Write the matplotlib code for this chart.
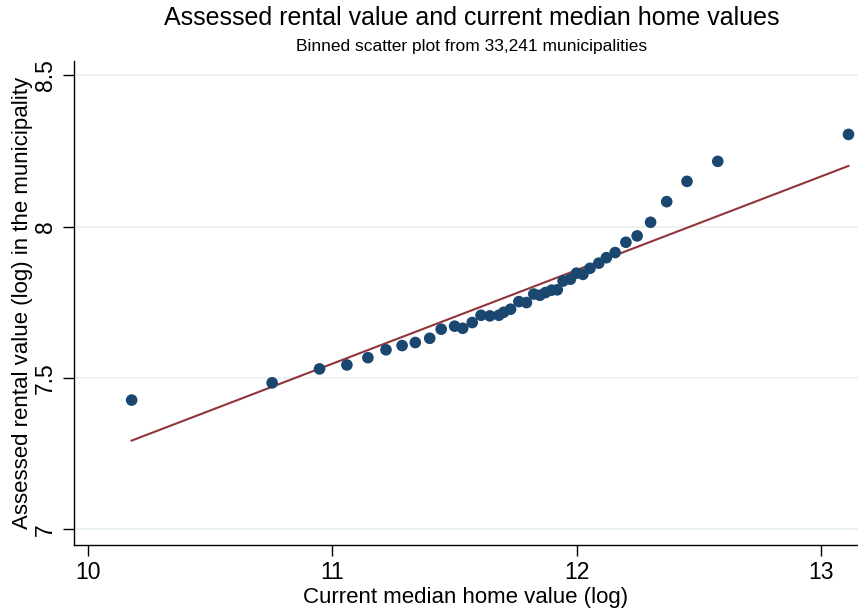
import matplotlib
matplotlib.use("Agg")
import matplotlib.pyplot as plt
import numpy as np

plt.rcParams["font.family"] = ["Liberation Sans", "DejaVu Sans"]

# Binned means: log median home value vs. log assessed rental value
home_value_log = [
    10.179, 10.754, 10.948, 11.060, 11.146, 11.220, 11.286, 11.340, 11.399, 11.446,
    11.501, 11.534, 11.573, 11.609, 11.645, 11.682, 11.702, 11.730, 11.764, 11.795,
    11.825, 11.850, 11.873, 11.898, 11.921, 11.945, 11.975, 12.000, 12.026, 12.055,
    12.091, 12.122, 12.158, 12.202, 12.248, 12.303, 12.369, 12.452, 12.578, 13.113,
]
rental_value_log = [
    7.427, 7.484, 7.530, 7.543, 7.567, 7.593, 7.607, 7.617, 7.631, 7.661,
    7.671, 7.664, 7.683, 7.707, 7.705, 7.707, 7.717, 7.727, 7.752, 7.749,
    7.777, 7.773, 7.782, 7.790, 7.791, 7.820, 7.826, 7.846, 7.842, 7.862,
    7.879, 7.897, 7.914, 7.948, 7.969, 8.014, 8.082, 8.149, 8.215, 8.304,
]

# Linear fit line (intercept, slope)
fit_intercept = 4.148
fit_slope = 0.309

x_ticks = [10, 11, 12, 13]
y_ticks = [7, 7.5, 8, 8.5]
y_tick_labels = ["7", "7.5", "8", "8.5"]

navy = "#1a476f"
maroon = "#90353b"

fig = plt.figure(figsize=(8.58, 6.11), dpi=100)
ax = fig.add_axes([74 / 858, 1 - 544.6 / 611, 1 - 74 / 858, (544.6 - 61.4) / 611])

ax.set_xlim(9.943, 13.152)
ax.set_ylim(6.95, 8.545)

for yt in y_ticks:
    ax.axhline(yt, color="#eaf2f3", linewidth=1.3, zorder=0)

ax.scatter(home_value_log, rental_value_log, s=70, color=navy, edgecolors="none", zorder=3)

xs = np.array([min(home_value_log), max(home_value_log)])
ax.plot(xs, fit_intercept + fit_slope * xs, color=maroon, linewidth=1.5, zorder=2)

ax.set_xticks(x_ticks)
ax.set_xticklabels([str(t) for t in x_ticks])
ax.set_yticks(y_ticks)
ax.set_yticklabels(y_tick_labels, rotation=90, va="center")

ax.tick_params(axis="both", direction="out", length=8, width=1, color="black",
               labelsize=16.5, pad=4)
ax.spines["top"].set_visible(False)
ax.spines["right"].set_visible(False)
ax.spines["left"].set_linewidth(1)
ax.spines["bottom"].set_linewidth(1)

ax.set_xlabel("Current median home value (log)", fontsize=16, labelpad=2)
ax.set_ylabel("Assessed rental value (log) in the municipality", fontsize=16, labelpad=1)

fig.text(472 / 858, 1 - 18 / 611, "Assessed rental value and current median home values",
         ha="center", va="center", fontsize=18)
fig.text(472 / 858, 1 - 46 / 611, "Binned scatter plot from 33,241 municipalities",
         ha="center", va="center", fontsize=12.5)

fig.savefig("out.png", dpi=100)
